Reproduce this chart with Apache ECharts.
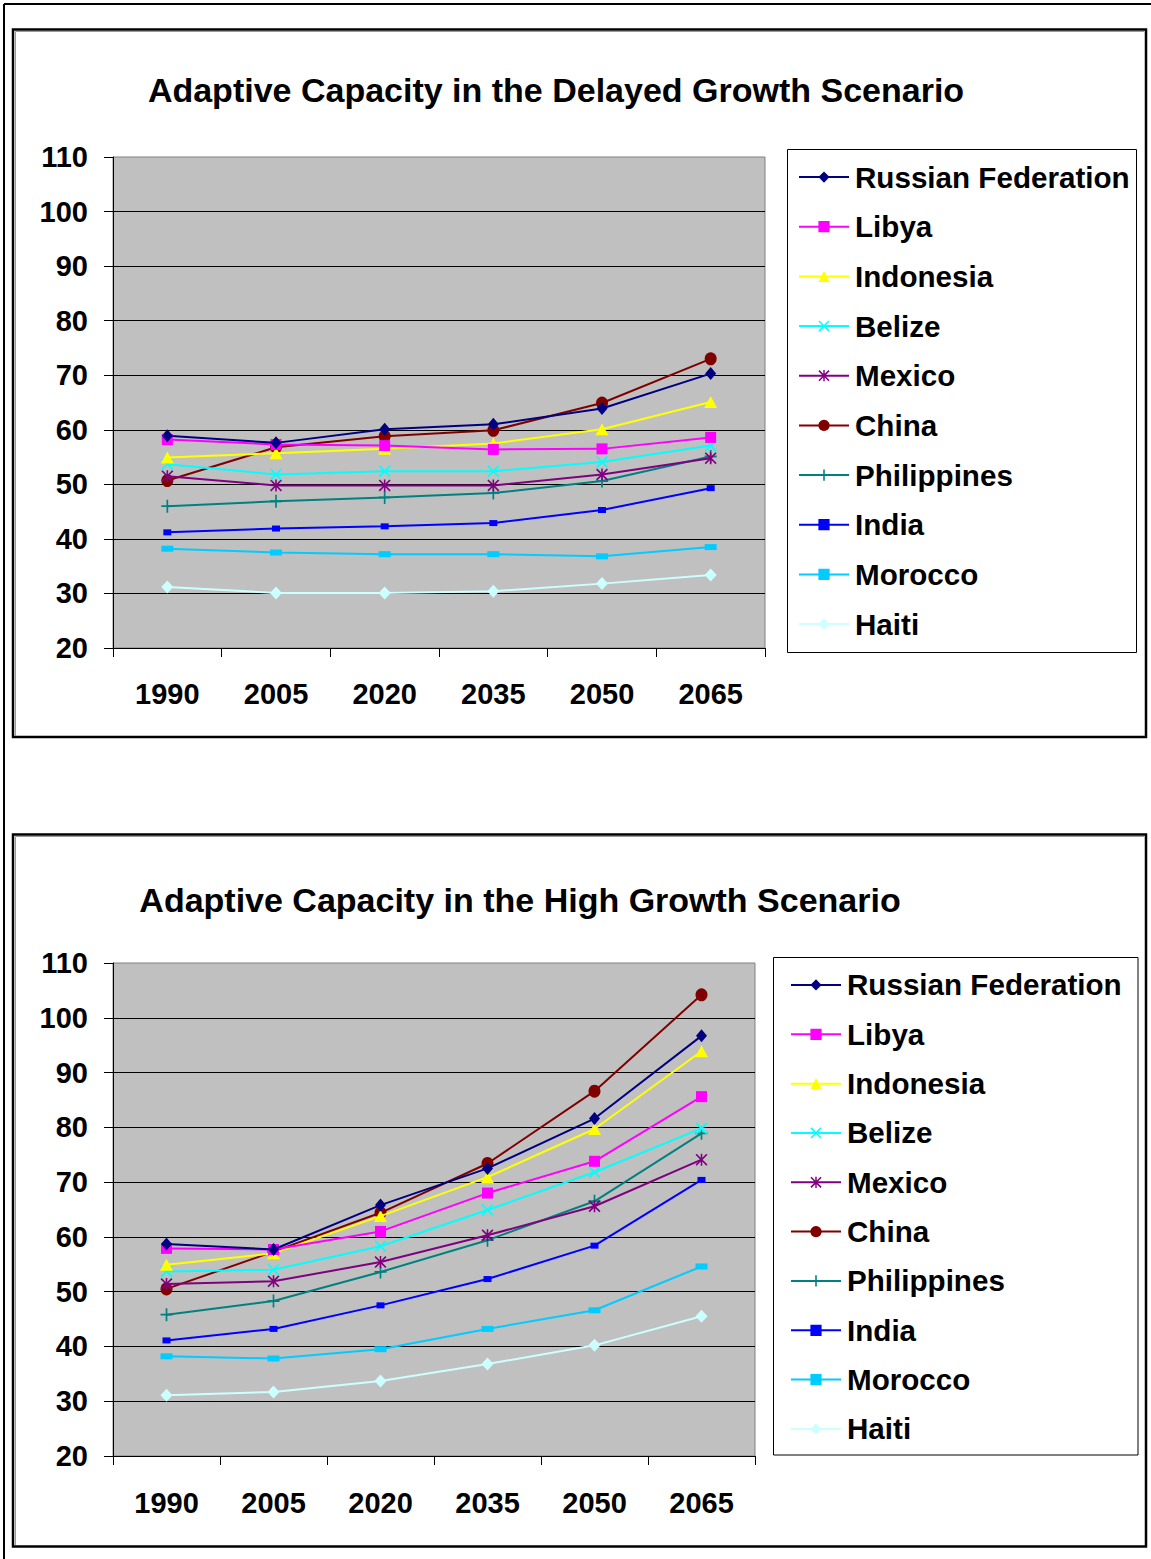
<!DOCTYPE html>
<html>
<head>
<meta charset="utf-8">
<script src="https://cdn.jsdelivr.net/npm/echarts@6/dist/echarts.min.js"></script>
<style>
html,body{margin:0;padding:0;background:#fff;}
#chart{width:1151px;height:1559px;}
</style>
</head>
<body>
<div id="chart"></div>
<script>
// ---------- data ----------
const years = ['1990', '2005', '2020', '2035', '2050', '2065'];
const countries = ['Russian Federation', 'Libya', 'Indonesia', 'Belize', 'Mexico', 'China', 'Philippines', 'India', 'Morocco', 'Haiti'];
const yTicks = [20, 30, 40, 50, 60, 70, 80, 90, 100, 110];
const titleDelayed = 'Adaptive Capacity in the Delayed Growth Scenario';
const titleHigh = 'Adaptive Capacity in the High Growth Scenario';

// Delayed growth scenario
const delayedRussia      = [58.9, 57.6, 60.1, 61.0, 63.9, 70.3];
const delayedLibya       = [58.2, 57.3, 57.1, 56.4, 56.5, 58.6];
const delayedIndonesia   = [54.9, 55.7, 56.5, 57.5, 60.1, 65.1];
const delayedBelize      = [53.7, 51.8, 52.4, 52.4, 54.1, 57.1];
const delayedMexico      = [51.5, 49.8, 49.8, 49.8, 51.8, 54.8];
const delayedChina       = [50.7, 56.8, 58.8, 59.9, 64.9, 73.0];
const delayedPhilippines = [46.0, 46.9, 47.6, 48.4, 50.6, 55.1];
const delayedIndia       = [41.2, 41.9, 42.3, 42.9, 45.3, 49.3];
const delayedMorocco     = [38.2, 37.5, 37.2, 37.2, 36.8, 38.5];
const delayedHaiti       = [31.2, 30.1, 30.1, 30.4, 31.8, 33.4];

// High growth scenario
const highRussia      = [58.7, 57.7, 65.8, 72.5, 81.6, 96.7];
const highLibya       = [57.9, 57.7, 61.0, 68.0, 73.8, 85.6];
const highIndonesia   = [54.9, 57.0, 63.8, 70.9, 79.7, 93.9];
const highBelize      = [53.7, 54.0, 58.3, 64.9, 71.8, 79.8];
const highMexico      = [51.4, 51.9, 55.4, 60.3, 65.6, 74.1];
const highChina       = [50.5, 57.3, 64.4, 73.4, 86.6, 104.2];
const highPhilippines = [45.8, 48.3, 53.6, 59.4, 66.5, 78.9];
const highIndia       = [41.1, 43.2, 47.5, 52.3, 58.4, 70.4];
const highMorocco     = [38.2, 37.8, 39.5, 43.2, 46.6, 54.6];
const highHaiti       = [31.1, 31.7, 33.7, 36.8, 40.2, 45.5];

const delayedValues = [delayedRussia, delayedLibya, delayedIndonesia, delayedBelize, delayedMexico,
  delayedChina, delayedPhilippines, delayedIndia, delayedMorocco, delayedHaiti];
const highValues = [highRussia, highLibya, highIndonesia, highBelize, highMexico,
  highChina, highPhilippines, highIndia, highMorocco, highHaiti];

// ---------- styles ----------
const FONT = "'Liberation Sans', Arial, sans-serif";
const X_PATH = 'path://M0,1 L1,0 L5,4 L9,0 L10,1 L6,5 L10,9 L9,10 L5,6 L1,10 L0,9 L4,5 Z';
const STAR_PATH = 'path://M0,1 L1,0 L5,4 L9,0 L10,1 L6,5 L10,9 L9,10 L5,6 L1,10 L0,9 L4,5 Z M4.35,0 L5.65,0 L5.65,10 L4.35,10 Z';
const PLUS_PATH = 'path://M4.3,0 L5.7,0 L5.7,4.3 L10,4.3 L10,5.7 L5.7,5.7 L5.7,10 L4.3,10 L4.3,5.7 L0,5.7 L0,4.3 L4.3,4.3 Z';
const seriesStyle = [
  {color: '#000080', symbol: 'diamond', size: [11, 13]},
  {color: '#FF00FF', symbol: 'rect', size: [11, 11]},
  {color: '#FFFF00', symbol: 'triangle', size: [13, 12]},
  {color: '#00FFFF', symbol: X_PATH, size: [12, 12]},
  {color: '#800080', symbol: STAR_PATH, size: [12, 12]},
  {color: '#800000', symbol: 'circle', size: [12, 13]},
  {color: '#008080', symbol: PLUS_PATH, size: [12, 13]},
  {color: '#0000FF', symbol: 'rect', size: [8, 6]},
  {color: '#00CCFF', symbol: 'rect', size: [12, 6]},
  {color: '#CCFFFF', symbol: 'diamond', size: [12, 13]}
];

function makeSeries(values, gridIndex) {
  return countries.map((name, i) => ({
    name: name,
    type: 'line',
    xAxisIndex: gridIndex,
    yAxisIndex: gridIndex,
    data: values[i],
    symbol: seriesStyle[i].symbol,
    symbolSize: seriesStyle[i].size,
    showAllSymbol: true,
    lineStyle: {color: seriesStyle[i].color, width: 2},
    itemStyle: {color: seriesStyle[i].color, borderWidth: 0},
    emphasis: {disabled: true},
    z: 10 - i
  }));
}

function makeXAxis(gridIndex, margin) {
  return {
    type: 'category', gridIndex: gridIndex, data: years, boundaryGap: true,
    axisLine: {show: true, lineStyle: {color: '#000', width: 1}},
    axisTick: {show: true, inside: false, length: 9, interval: 0, alignWithLabel: false, lineStyle: {color: '#000'}},
    axisLabel: {show: true, interval: 0, margin: margin, color: '#000', fontFamily: FONT, fontWeight: 'bold', fontSize: 29},
    splitLine: {show: false}
  };
}
function makeYAxis(gridIndex) {
  return {
    type: 'value', gridIndex: gridIndex, min: yTicks[0], max: yTicks[yTicks.length - 1], interval: 10,
    axisLine: {show: true, lineStyle: {color: '#000', width: 1}},
    axisTick: {show: true, inside: false, length: 9, lineStyle: {color: '#000'}},
    axisLabel: {show: true, margin: 25, color: '#000', fontFamily: FONT, fontWeight: 'bold', fontSize: 29},
    splitLine: {show: true, showMaxLine: false, lineStyle: {color: '#000', width: 1}}
  };
}
function makeLegend(left, top, lh) {
  return {
    data: countries, orient: 'vertical', left: left, top: top, padding: 0,
    itemWidth: 50, itemHeight: 14, itemGap: 0, selectedMode: false,
    textStyle: {color: '#000', fontFamily: FONT, fontWeight: 'bold', fontSize: 29.6, lineHeight: lh, padding: [0, 0, 0, 1]}
  };
}

const chart = echarts.init(document.getElementById('chart'), null, {renderer: 'svg', width: 1151, height: 1559});

chart.setOption({
  animation: false,
  backgroundColor: '#ffffff',
  title: [
    {text: titleDelayed, left: 556, top: 72.5, textAlign: 'center', padding: 0,
      textStyle: {color: '#000', fontFamily: FONT, fontWeight: 'bold', fontSize: 34}},
    {text: titleHigh, left: 520, top: 882.5, textAlign: 'center', padding: 0,
      textStyle: {color: '#000', fontFamily: FONT, fontWeight: 'bold', fontSize: 34}}
  ],
  legend: [makeLegend(798, 152.2, 49.67), makeLegend(790, 960.3, 49.33)],
  grid: [
    {left: 113, top: 157, width: 652, height: 491, show: true, backgroundColor: '#C0C0C0', borderColor: '#808080', borderWidth: 1},
    {left: 113, top: 963, width: 642, height: 493, show: true, backgroundColor: '#C0C0C0', borderColor: '#808080', borderWidth: 1}
  ],
  xAxis: [makeXAxis(0, 31), makeXAxis(1, 32)],
  yAxis: [makeYAxis(0), makeYAxis(1)],
  graphic: [
    {type: 'line', z: -5, shape: {x1: 4, y1: 4, x2: 1151, y2: 4}, style: {stroke: '#000', lineWidth: 2}},
    {type: 'line', z: -5, shape: {x1: 4, y1: 4, x2: 4, y2: 1559}, style: {stroke: '#000', lineWidth: 2}},
    {type: 'rect', z: -5, shape: {x: 13, y: 29.5, width: 1133, height: 707.5}, style: {fill: 'none', stroke: '#000', lineWidth: 2.5}},
    {type: 'polyline', z: -5, shape: {points: [[15.5, 736], [15.5, 31.5], [1144, 31.5]]}, style: {fill: 'none', stroke: '#9a9a9a', lineWidth: 1}},
    {type: 'rect', z: -5, shape: {x: 13, y: 834.5, width: 1133, height: 712}, style: {fill: 'none', stroke: '#000', lineWidth: 2.5}},
    {type: 'polyline', z: -5, shape: {points: [[15.5, 1545], [15.5, 836.5], [1144, 836.5]]}, style: {fill: 'none', stroke: '#9a9a9a', lineWidth: 1}},
    {type: 'rect', z: -5, shape: {x: 787.5, y: 149.5, width: 349, height: 503}, style: {fill: 'none', stroke: '#000', lineWidth: 1}},
    {type: 'rect', z: -5, shape: {x: 773.5, y: 957.5, width: 364.5, height: 497.5}, style: {fill: 'none', stroke: '#000', lineWidth: 1}}
  ],
  series: makeSeries(delayedValues, 0).concat(makeSeries(highValues, 1))
});
</script>
</body>
</html>
